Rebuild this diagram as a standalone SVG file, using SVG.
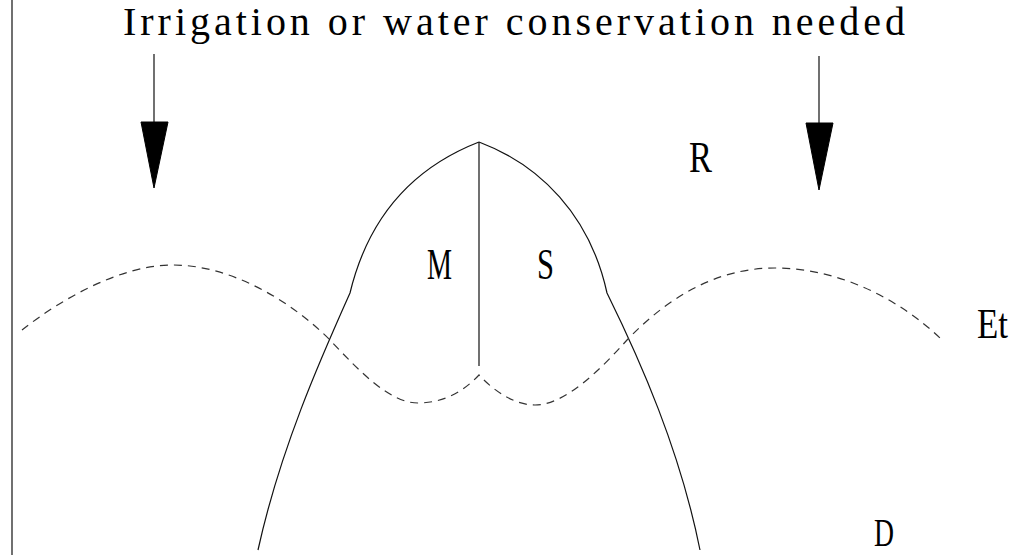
<svg xmlns="http://www.w3.org/2000/svg" width="1013" height="555" viewBox="0 0 1013 555">
<style>
.t{font-family:"Liberation Serif","Times New Roman",serif;fill:#000}
.s{fill:none;stroke:#111;stroke-width:1.2}
.d{fill:none;stroke:#333;stroke-width:1.2;stroke-dasharray:8 6}
.a{fill:#000;stroke:#000;stroke-width:1}
</style>
<rect width="1013" height="555" fill="#fff"/>
<g id="axis"><line class="s" x1="12" y1="0" x2="12" y2="555"/></g>
<g id="title"><text class="t" x="123" y="35" font-size="40" textLength="782" lengthAdjust="spacing">Irrigation or water conservation needed</text></g>
<g id="arrow-left"><line class="s" x1="154" y1="54" x2="154" y2="123"/><polygon class="a" points="141,122 168,122 154,188"/></g>
<g id="arrow-right"><line class="s" x1="819" y1="56" x2="819" y2="124"/><polygon class="a" points="806,123 833,123 819,190"/></g>
<g id="connectors">
<path id="rainfall" class="s" d="M479,142 C420,165 370,210 350,293 C320,360 280,450 258,550 M479,142 C540,165 590,215 607,293 C640,360 680,450 700,550"/>
<line id="divider" class="s" x1="479" y1="142" x2="479" y2="366"/>
<path id="et" class="d" d="M22,330 C60,300 120,265 173,265 C230,265 290,300 330,340 C360,372 390,403 418,403 C445,403 465,390 479,375 C495,392 515,405 535,405 C565,405 600,370 627,340 C680,285 730,268 775,268 C840,268 900,300 940,338"/>
</g>
<g id="label-R"><text class="t" x="689" y="172" font-size="44" textLength="23" lengthAdjust="spacingAndGlyphs">R</text></g>
<g id="label-M"><text class="t" x="427" y="279" font-size="44" textLength="25" lengthAdjust="spacingAndGlyphs">M</text></g>
<g id="label-S"><text class="t" x="537" y="279" font-size="44" textLength="17" lengthAdjust="spacingAndGlyphs">S</text></g>
<g id="label-Et"><text class="t" x="977" y="338" font-size="42" textLength="31" lengthAdjust="spacingAndGlyphs">Et</text></g>
<g id="label-D"><text class="t" x="874" y="546" font-size="40" textLength="20" lengthAdjust="spacingAndGlyphs">D</text></g>
</svg>
